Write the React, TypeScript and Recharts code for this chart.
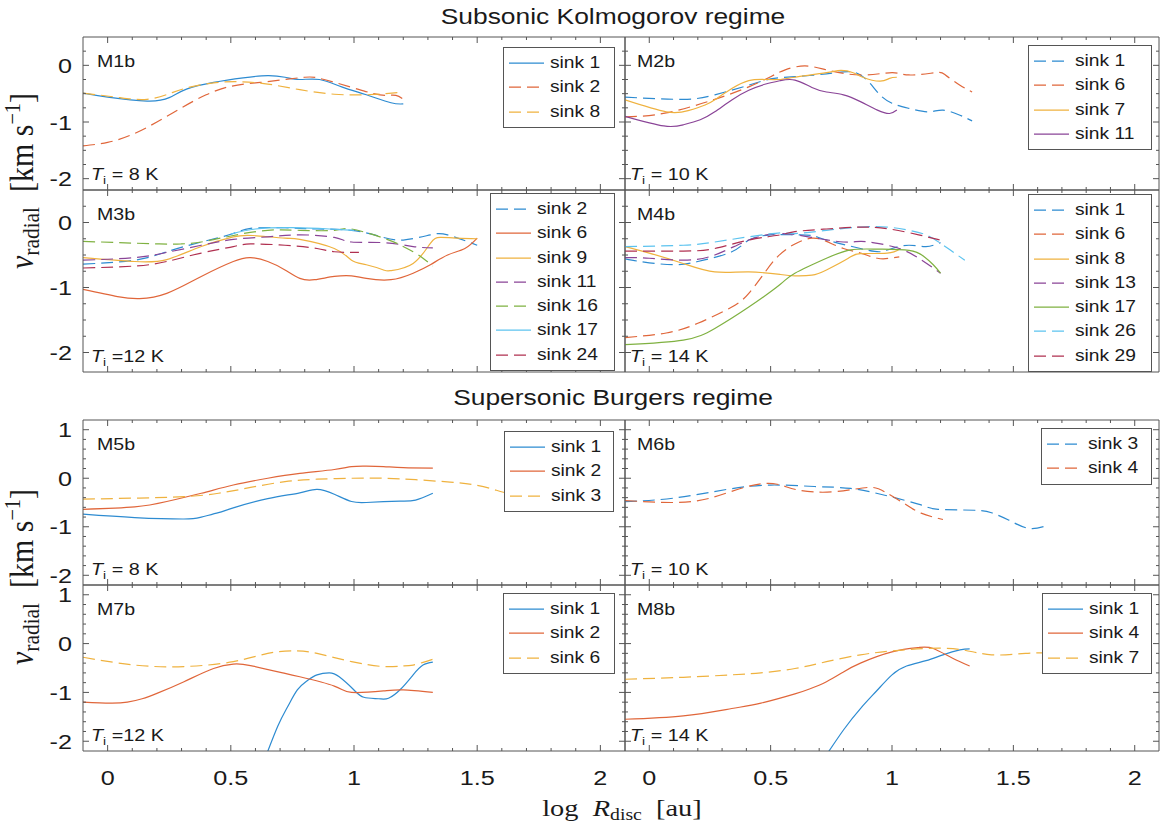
import React from "react";
import { Legend, Line, LineChart, XAxis, YAxis } from "recharts";

type Pt = [number, number];

// x = log R_disc [au], y = v_radial [km s^-1]

// M1b
const m1bSink1: Pt[] = [[-0.1, -0.49], [0.0, -0.56], [0.16, -0.63], [0.25, -0.57], [0.32, -0.42], [0.43, -0.3], [0.55, -0.22], [0.65, -0.18], [0.72, -0.21], [0.78, -0.25], [0.86, -0.25], [0.95, -0.38], [1.05, -0.52], [1.15, -0.66], [1.2, -0.68]];
const m1bSink2: Pt[] = [[-0.1, -1.42], [0.0, -1.36], [0.1, -1.22], [0.2, -1.0], [0.3, -0.75], [0.4, -0.52], [0.5, -0.37], [0.6, -0.31], [0.7, -0.26], [0.8, -0.21], [0.85, -0.22], [0.92, -0.3], [1.0, -0.4], [1.08, -0.5], [1.13, -0.53], [1.17, -0.53], [1.2, -0.6]];
const m1bSink8: Pt[] = [[-0.1, -0.49], [0.05, -0.57], [0.16, -0.6], [0.25, -0.5], [0.32, -0.4], [0.43, -0.31], [0.54, -0.29], [0.65, -0.33], [0.78, -0.43], [0.92, -0.51], [1.05, -0.52], [1.13, -0.5], [1.2, -0.47]];

// M2b
const m2bSink1: Pt[] = [[-0.1, -0.56], [0.14, -0.6], [0.27, -0.52], [0.41, -0.35], [0.5, -0.24], [0.6, -0.2], [0.73, -0.15], [0.82, -0.11], [0.87, -0.17], [0.91, -0.32], [0.95, -0.52], [1.0, -0.67], [1.07, -0.76], [1.15, -0.82], [1.21, -0.79], [1.28, -0.88], [1.33, -0.98]];
const m2bSink6: Pt[] = [[-0.1, -0.91], [0.07, -0.84], [0.27, -0.6], [0.41, -0.38], [0.5, -0.2], [0.56, -0.08], [0.64, -0.01], [0.73, -0.08], [0.87, -0.17], [1.0, -0.13], [1.07, -0.17], [1.18, -0.13], [1.22, -0.17], [1.28, -0.35], [1.33, -0.47]];
const m2bSink7: Pt[] = [[-0.1, -0.61], [0.07, -0.82], [0.16, -0.8], [0.23, -0.7], [0.28, -0.58], [0.34, -0.41], [0.41, -0.27], [0.48, -0.25], [0.54, -0.25], [0.6, -0.21], [0.73, -0.13], [0.79, -0.09], [0.84, -0.13], [0.88, -0.21], [0.95, -0.28], [0.99, -0.23], [1.02, -0.21]];
const m2bSink11: Pt[] = [[-0.1, -0.9], [0.06, -1.07], [0.14, -1.05], [0.21, -0.96], [0.27, -0.82], [0.34, -0.61], [0.41, -0.44], [0.48, -0.33], [0.54, -0.27], [0.6, -0.26], [0.67, -0.39], [0.73, -0.47], [0.8, -0.52], [0.87, -0.64], [0.94, -0.79], [0.99, -0.85], [1.02, -0.79]];

// M3b
const m3bSink2: Pt[] = [[-0.1, -0.64], [0.11, -0.58], [0.24, -0.45], [0.38, -0.3], [0.51, -0.17], [0.58, -0.09], [0.72, -0.08], [0.85, -0.1], [0.99, -0.12], [1.11, -0.22], [1.2, -0.27], [1.31, -0.19], [1.38, -0.19], [1.5, -0.35]];
const m3bSink6: Pt[] = [[-0.1, -1.03], [0.04, -1.14], [0.13, -1.17], [0.24, -1.09], [0.38, -0.83], [0.51, -0.6], [0.58, -0.54], [0.65, -0.6], [0.72, -0.73], [0.78, -0.86], [0.84, -0.88], [0.92, -0.83], [0.99, -0.82], [1.05, -0.86], [1.15, -0.88], [1.24, -0.78], [1.31, -0.65], [1.38, -0.5], [1.45, -0.4], [1.5, -0.24]];
const m3bSink9: Pt[] = [[-0.1, -0.54], [0.11, -0.6], [0.24, -0.57], [0.38, -0.37], [0.51, -0.22], [0.59, -0.2], [0.72, -0.24], [0.78, -0.26], [0.92, -0.4], [0.99, -0.58], [1.05, -0.65], [1.12, -0.73], [1.15, -0.74], [1.24, -0.63], [1.31, -0.32], [1.35, -0.23], [1.42, -0.24], [1.5, -0.25]];
const m3bSink11: Pt[] = [[-0.1, -0.58], [0.11, -0.54], [0.24, -0.46], [0.38, -0.35], [0.51, -0.26], [0.65, -0.22], [0.78, -0.19], [0.92, -0.23], [0.99, -0.3], [1.12, -0.31], [1.24, -0.37], [1.32, -0.39]];
const m3bSink16: Pt[] = [[-0.1, -0.29], [0.21, -0.33], [0.3, -0.33], [0.38, -0.3], [0.51, -0.2], [0.65, -0.12], [0.78, -0.12], [0.92, -0.12], [0.99, -0.1], [1.12, -0.24], [1.19, -0.35], [1.24, -0.45], [1.28, -0.55], [1.32, -0.67]];
const m3bSink17: Pt[] = [[0.5, -0.18], [0.6, -0.1], [0.75, -0.08], [0.9, -0.1], [1.0, -0.12]];
const m3bSink24: Pt[] = [[-0.1, -0.7], [0.11, -0.67], [0.24, -0.6], [0.38, -0.47], [0.51, -0.37], [0.58, -0.33], [0.72, -0.35], [0.85, -0.4], [0.92, -0.45], [1.02, -0.46]];

// M4b
const m4bSink1: Pt[] = [[-0.1, -0.56], [0.0, -0.62], [0.11, -0.65], [0.2, -0.6], [0.34, -0.45], [0.41, -0.27], [0.5, -0.19], [0.6, -0.19], [0.67, -0.2], [0.73, -0.27], [0.87, -0.4], [0.95, -0.45], [1.0, -0.4], [1.07, -0.35], [1.14, -0.37], [1.2, -0.31]];
const m4bSink6: Pt[] = [[-0.1, -1.77], [0.07, -1.7], [0.2, -1.55], [0.34, -1.3], [0.41, -1.09], [0.47, -0.8], [0.53, -0.52], [0.6, -0.33], [0.67, -0.24], [0.73, -0.29], [0.8, -0.4], [0.87, -0.47], [0.94, -0.55], [0.99, -0.55], [1.03, -0.53]];
const m4bSink8: Pt[] = [[-0.1, -0.37], [0.0, -0.47], [0.14, -0.63], [0.27, -0.76], [0.41, -0.76], [0.54, -0.8], [0.6, -0.82], [0.67, -0.81], [0.73, -0.73], [0.82, -0.55], [0.87, -0.48], [0.98, -0.47], [1.03, -0.41]];
const m4bSink13: Pt[] = [[-0.1, -0.54], [0.0, -0.55], [0.14, -0.58], [0.27, -0.5], [0.41, -0.27], [0.54, -0.17], [0.67, -0.23], [0.8, -0.3], [0.87, -0.29], [0.94, -0.32], [1.03, -0.4], [1.11, -0.55], [1.2, -0.78]];
const m4bSink17: Pt[] = [[-0.1, -1.88], [0.14, -1.81], [0.27, -1.63], [0.41, -1.3], [0.54, -0.95], [0.6, -0.78], [0.73, -0.55], [0.83, -0.42], [0.94, -0.41], [1.07, -0.43], [1.13, -0.52], [1.17, -0.65], [1.2, -0.78]];
const m4bSink26: Pt[] = [[-0.1, -0.37], [0.14, -0.35], [0.27, -0.3], [0.41, -0.22], [0.54, -0.16], [0.6, -0.17], [0.73, -0.12], [0.87, -0.07], [0.98, -0.07], [1.07, -0.12], [1.14, -0.19], [1.2, -0.32], [1.25, -0.45], [1.3, -0.58]];
const m4bSink29: Pt[] = [[-0.1, -0.44], [0.14, -0.44], [0.27, -0.4], [0.41, -0.27], [0.54, -0.19], [0.6, -0.14], [0.73, -0.1], [0.87, -0.07], [0.99, -0.1], [1.11, -0.19], [1.2, -0.27]];

// M5b
const m5bSink1: Pt[] = [[-0.1, -0.74], [0.11, -0.81], [0.31, -0.84], [0.38, -0.8], [0.45, -0.71], [0.51, -0.61], [0.65, -0.42], [0.78, -0.3], [0.85, -0.23], [0.92, -0.33], [0.99, -0.48], [1.05, -0.5], [1.12, -0.48], [1.19, -0.47], [1.25, -0.45], [1.32, -0.31]];
const m5bSink2: Pt[] = [[-0.1, -0.64], [0.11, -0.59], [0.24, -0.48], [0.38, -0.31], [0.51, -0.14], [0.65, 0.0], [0.78, 0.1], [0.92, 0.18], [0.99, 0.24], [1.05, 0.25], [1.12, 0.24], [1.2, 0.22], [1.32, 0.21]];
const m5bSink3: Pt[] = [[-0.1, -0.43], [0.11, -0.41], [0.31, -0.38], [0.45, -0.31], [0.58, -0.19], [0.72, -0.07], [0.85, -0.02], [0.99, 0.0], [1.12, 0.0], [1.25, -0.03], [1.39, -0.08], [1.48, -0.13], [1.56, -0.22], [1.62, -0.3], [1.68, -0.27]];

// M6b
const m6bSink3: Pt[] = [[-0.1, -0.48], [0.1, -0.41], [0.32, -0.23], [0.5, -0.14], [0.68, -0.17], [0.83, -0.21], [0.97, -0.35], [1.12, -0.55], [1.19, -0.64], [1.34, -0.66], [1.41, -0.71], [1.48, -0.86], [1.56, -1.03], [1.63, -0.99]];
const m6bSink4: Pt[] = [[-0.1, -0.46], [0.1, -0.5], [0.25, -0.41], [0.39, -0.19], [0.51, -0.11], [0.61, -0.24], [0.76, -0.28], [0.9, -0.19], [0.97, -0.28], [1.05, -0.52], [1.12, -0.72], [1.21, -0.85]];

// M7b
const m7bSink1: Pt[] = [[0.62, -2.6], [0.69, -1.7], [0.73, -1.3], [0.77, -0.95], [0.81, -0.76], [0.85, -0.64], [0.9, -0.6], [0.94, -0.68], [1.0, -0.95], [1.04, -1.1], [1.1, -1.13], [1.14, -1.12], [1.19, -0.93], [1.24, -0.64], [1.28, -0.44], [1.32, -0.38]];
const m7bSink2: Pt[] = [[-0.1, -1.2], [0.01, -1.22], [0.08, -1.2], [0.14, -1.13], [0.2, -1.02], [0.31, -0.78], [0.43, -0.51], [0.51, -0.42], [0.58, -0.45], [0.72, -0.61], [0.78, -0.68], [0.92, -0.87], [0.99, -1.0], [1.12, -0.97], [1.2, -0.95], [1.32, -1.0]];
const m7bSink6: Pt[] = [[-0.1, -0.28], [0.11, -0.44], [0.31, -0.47], [0.51, -0.37], [0.65, -0.2], [0.76, -0.15], [0.85, -0.2], [0.99, -0.37], [1.12, -0.47], [1.19, -0.46], [1.24, -0.44], [1.32, -0.32]];

// M8b
const m8bSink1: Pt[] = [[0.7, -2.5], [0.8, -1.77], [0.87, -1.33], [0.94, -0.95], [1.0, -0.64], [1.06, -0.46], [1.14, -0.35], [1.21, -0.23], [1.28, -0.13], [1.32, -0.11]];
const m8bSink4: Pt[] = [[-0.1, -1.55], [0.14, -1.48], [0.34, -1.33], [0.46, -1.22], [0.6, -1.03], [0.66, -0.93], [0.73, -0.78], [0.8, -0.58], [0.87, -0.4], [1.0, -0.17], [1.11, -0.08], [1.17, -0.1], [1.25, -0.3], [1.32, -0.46]];
const m8bSink7: Pt[] = [[-0.1, -0.73], [0.14, -0.69], [0.34, -0.64], [0.46, -0.6], [0.6, -0.51], [0.73, -0.37], [0.87, -0.23], [1.0, -0.15], [1.14, -0.1], [1.28, -0.12], [1.41, -0.23], [1.55, -0.2], [1.65, -0.19]];

const X_MAJOR = [0, 0.5, 1, 1.5, 2];
const Y_MAJOR_TOP = [-2, -1, 0];
const Y_MAJOR_BOTTOM = [-2, -1, 0, 1];

const BLUE = "#2d8bd1";
const ORANGE = "#e0663a";
const YELLOW = "#efb23f";
const PURPLE = "#8a4497";
const GREEN = "#7fb141";
const CYAN = "#5cc3ef";
const DARKRED = "#b03050";

const AXIS = "#555";
const INK = "#1a1a1a";
const SANS = "'Liberation Sans', Arial, Helvetica, sans-serif";
const SERIF = "'Liberation Serif', 'Times New Roman', serif";
const DASH = "12 6";
const LEG_ROW = 24.3;

interface Series {
  name: string;
  color: string;
  dashed?: boolean;
  data: Pt[];
}

interface PanelDef {
  label: string;
  temp: string;
  row: number;
  col: number;
  legendTop: number;
  legendRight: number;
  legendWidth: number;
  series: Series[];
}

const ROWS = [
  { top: 37, bottom: 190, domain: [-2.2, 0.5], major: Y_MAJOR_TOP, minorStep: 0.25 },
  { top: 190, bottom: 372, domain: [-2.3, 0.5], major: Y_MAJOR_TOP, minorStep: 0.25 },
  { top: 420, bottom: 585, domain: [-2.2, 1.2], major: Y_MAJOR_BOTTOM, minorStep: 0.2 },
  { top: 585, bottom: 751, domain: [-2.2, 1.2], major: Y_MAJOR_BOTTOM, minorStep: 0.2 },
];
const COLS = [
  { left: 83, right: 625 },
  { left: 625, right: 1159 },
];
const X_DOMAIN = [-0.1, 2.1];

const PANELS: PanelDef[] = [
  {
    label: "M1b", temp: " = 8 K", row: 0, col: 0, legendTop: 10, legendRight: 10, legendWidth: 112,
    series: [
      { name: "sink 1", color: BLUE, data: m1bSink1 },
      { name: "sink 2", color: ORANGE, dashed: true, data: m1bSink2 },
      { name: "sink 8", color: YELLOW, dashed: true, data: m1bSink8 },
    ],
  },
  {
    label: "M2b", temp: " = 10 K", row: 0, col: 1, legendTop: 8, legendRight: 7, legendWidth: 124,
    series: [
      { name: "sink 1", color: BLUE, dashed: true, data: m2bSink1 },
      { name: "sink 6", color: ORANGE, dashed: true, data: m2bSink6 },
      { name: "sink 7", color: YELLOW, data: m2bSink7 },
      { name: "sink 11", color: PURPLE, data: m2bSink11 },
    ],
  },
  {
    label: "M3b", temp: " =12 K", row: 1, col: 0, legendTop: 3, legendRight: 10, legendWidth: 125,
    series: [
      { name: "sink 2", color: BLUE, dashed: true, data: m3bSink2 },
      { name: "sink 6", color: ORANGE, data: m3bSink6 },
      { name: "sink 9", color: YELLOW, data: m3bSink9 },
      { name: "sink 11", color: PURPLE, dashed: true, data: m3bSink11 },
      { name: "sink 16", color: GREEN, dashed: true, data: m3bSink16 },
      { name: "sink 17", color: CYAN, data: m3bSink17 },
      { name: "sink 24", color: DARKRED, dashed: true, data: m3bSink24 },
    ],
  },
  {
    label: "M4b", temp: " = 14 K", row: 1, col: 1, legendTop: 4, legendRight: 7, legendWidth: 124,
    series: [
      { name: "sink 1", color: BLUE, dashed: true, data: m4bSink1 },
      { name: "sink 6", color: ORANGE, dashed: true, data: m4bSink6 },
      { name: "sink 8", color: YELLOW, data: m4bSink8 },
      { name: "sink 13", color: PURPLE, dashed: true, data: m4bSink13 },
      { name: "sink 17", color: GREEN, data: m4bSink17 },
      { name: "sink 26", color: CYAN, dashed: true, data: m4bSink26 },
      { name: "sink 29", color: DARKRED, dashed: true, data: m4bSink29 },
    ],
  },
  {
    label: "M5b", temp: " = 8 K", row: 2, col: 0, legendTop: 11, legendRight: 11, legendWidth: 110,
    series: [
      { name: "sink 1", color: BLUE, data: m5bSink1 },
      { name: "sink 2", color: ORANGE, data: m5bSink2 },
      { name: "sink 3", color: YELLOW, dashed: true, data: m5bSink3 },
    ],
  },
  {
    label: "M6b", temp: " = 10 K", row: 2, col: 1, legendTop: 8, legendRight: 7, legendWidth: 111,
    series: [
      { name: "sink 3", color: BLUE, dashed: true, data: m6bSink3 },
      { name: "sink 4", color: ORANGE, dashed: true, data: m6bSink4 },
    ],
  },
  {
    label: "M7b", temp: " =12 K", row: 3, col: 0, legendTop: 8, legendRight: 10, legendWidth: 112,
    series: [
      { name: "sink 1", color: BLUE, data: m7bSink1 },
      { name: "sink 2", color: ORANGE, data: m7bSink2 },
      { name: "sink 6", color: YELLOW, dashed: true, data: m7bSink6 },
    ],
  },
  {
    label: "M8b", temp: " = 14 K", row: 3, col: 1, legendTop: 8, legendRight: 7, legendWidth: 110,
    series: [
      { name: "sink 1", color: BLUE, data: m8bSink1 },
      { name: "sink 4", color: ORANGE, data: m8bSink4 },
      { name: "sink 7", color: YELLOW, dashed: true, data: m8bSink7 },
    ],
  },
];

// major ticks plus minor ones every 0.1 on x
const X_TICKS: number[] = [];
for (let k = 0; k <= 20; k++) X_TICKS.push(+(k / 10).toFixed(2));

function yTicksFor(row: (typeof ROWS)[number]) {
  const [d0, d1] = row.domain;
  const out: number[] = [];
  for (let k = Math.ceil(d0 / row.minorStep); k * row.minorStep <= d1; k++) {
    const v = +(k * row.minorStep).toFixed(3);
    if (v - d0 > 0.06 && d1 - v > 0.06) out.push(v);
  }
  return out;
}

const fmt = (v: number) => (Math.abs(v) < 1e-9 ? "0" : String(v));

function XTick(props: any) {
  const { x, y, payload, side, showLabel } = props;
  const v = payload.value as number;
  const major = X_MAJOR.some((m) => Math.abs(m - v) < 1e-6);
  const len = major ? 6 : 3;
  const dir = side === "bottom" ? -1 : 1;
  return (
    <g>
      <line x1={x} x2={x} y1={y} y2={y + dir * len} stroke={AXIS} strokeWidth={1} />
      {showLabel && major && (
        <text transform={`translate(${x},${y + 34}) scale(1.2,1)`} textAnchor="middle" fontSize={21} fontFamily={SANS} fill={INK}>
          {fmt(v)}
        </text>
      )}
    </g>
  );
}

function YTick(props: any) {
  const { x, y, payload, side, showLabel } = props;
  const v = payload.value as number;
  const major = Math.abs(v - Math.round(v)) < 1e-6;
  const len = major ? 6 : 3;
  const dir = side === "left" ? 1 : -1;
  return (
    <g>
      <line x1={x} x2={x + dir * len} y1={y} y2={y} stroke={AXIS} strokeWidth={1} />
      {showLabel && major && (
        <text transform={`translate(${x - 11},${y + 7.5}) scale(1.2,1)`} textAnchor="end" fontSize={21} fontFamily={SANS} fill={INK}>
          {fmt(v)}
        </text>
      )}
    </g>
  );
}

function LegendBox({ series }: { series: Series[] }) {
  return (
    <div style={{ border: `1px solid ${AXIS}`, background: "#fff", padding: "3px 0", boxSizing: "border-box" }}>
      {series.map((s) => (
        <div key={s.name} style={{ position: "relative", height: LEG_ROW }}>
          <svg width={42} height={LEG_ROW} style={{ position: "absolute", left: 0, top: 0 }}>
            <line x1={5} x2={40} y1={LEG_ROW / 2} y2={LEG_ROW / 2} stroke={s.color} strokeWidth={1.2} strokeDasharray={s.dashed ? DASH : undefined} />
          </svg>
          <span
            style={{
              position: "absolute",
              left: 46,
              top: 0,
              lineHeight: `${LEG_ROW}px`,
              fontSize: 16,
              fontFamily: SANS,
              color: INK,
              whiteSpace: "nowrap",
              transform: "scaleX(1.2)",
              transformOrigin: "left center",
            }}
          >
            {s.name}
          </span>
        </div>
      ))}
    </div>
  );
}

function PanelChart({ p }: { p: PanelDef }) {
  const row = ROWS[p.row];
  const col = COLS[p.col];
  const isLeft = p.col === 0;
  const isBottom = p.row === 3;
  const leftW = isLeft ? col.left : 1;
  const bottomH = isBottom ? 46 : 1;
  const width = leftW + (col.right - col.left) + 1;
  const height = 1 + (row.bottom - row.top) + bottomH;
  const yTicks = yTicksFor(row);

  return (
    <div style={{ position: "absolute", left: col.left - leftW, top: row.top - 1 }}>
      <LineChart width={width} height={height} margin={{ top: 0, right: 0, bottom: 0, left: 0 }}>
        <XAxis
          xAxisId="b"
          type="number"
          dataKey="x"
          domain={X_DOMAIN}
          allowDataOverflow
          ticks={X_TICKS}
          interval={0}
          height={bottomH}
          tickSize={0}
          tickMargin={0}
          tickLine={false}
          stroke={AXIS}
          tick={(t: any) => <XTick {...t} side="bottom" showLabel={isBottom} />}
        />
        <XAxis
          xAxisId="t"
          orientation="top"
          type="number"
          dataKey="x"
          domain={X_DOMAIN}
          allowDataOverflow
          ticks={X_TICKS}
          interval={0}
          height={1}
          tickSize={0}
          tickMargin={0}
          tickLine={false}
          stroke={AXIS}
          tick={(t: any) => <XTick {...t} side="top" showLabel={false} />}
        />
        <YAxis
          yAxisId="l"
          type="number"
          domain={row.domain}
          allowDataOverflow
          ticks={yTicks}
          interval={0}
          width={leftW}
          tickSize={0}
          tickMargin={0}
          tickLine={false}
          stroke={AXIS}
          tick={(t: any) => <YTick {...t} side="left" showLabel={isLeft} />}
        />
        <YAxis
          yAxisId="r"
          orientation="right"
          type="number"
          domain={row.domain}
          allowDataOverflow
          ticks={yTicks}
          interval={0}
          width={1}
          tickSize={0}
          tickMargin={0}
          tickLine={false}
          stroke={AXIS}
          tick={(t: any) => <YTick {...t} side="right" showLabel={false} />}
        />
        <Legend
          layout="horizontal"
          align="center"
          verticalAlign="middle"
          content={() => <LegendBox series={p.series} />}
          wrapperStyle={{ top: 1 + p.legendTop, right: 1 + p.legendRight, left: "auto", width: p.legendWidth, height: "auto" }}
        />
        {p.series.map((s) => (
          <Line
            key={s.name}
            xAxisId="b"
            yAxisId="l"
            name={s.name}
            data={s.data.map(([x, y]) => ({ x, y }))}
            dataKey="y"
            type="natural"
            stroke={s.color}
            strokeWidth={1.2}
            strokeDasharray={s.dashed ? DASH : undefined}
            dot={false}
            activeDot={false}
            isAnimationActive={false}
          />
        ))}
      </LineChart>
    </div>
  );
}

function Annotations() {
  return (
    <svg width={1160} height={826} style={{ position: "absolute", left: 0, top: 0, pointerEvents: "none" }}>
      <text transform="translate(613,24) scale(1.2,1)" textAnchor="middle" fontSize={22} fontFamily={SANS} fill={INK}>
        Subsonic Kolmogorov regime
      </text>
      <text transform="translate(613,405) scale(1.2,1)" textAnchor="middle" fontSize={22} fontFamily={SANS} fill={INK}>
        Supersonic Burgers regime
      </text>
      {PANELS.map((p) => {
        const row = ROWS[p.row];
        const col = COLS[p.col];
        const lx = col.left + (p.col === 0 ? 14 : 12);
        const tx = col.left + (p.col === 0 ? 8 : 5);
        return (
          <g key={p.label}>
            <text transform={`translate(${lx},${row.top + 30}) scale(1.2,1)`} fontSize={16.3} fontFamily={SANS} fill={INK}>
              {p.label}
            </text>
            <text transform={`translate(${tx},${row.bottom - 10}) scale(1.2,1)`} fontSize={16.5} fontFamily={SANS} fill={INK} style={{ whiteSpace: "pre" }}>
              <tspan fontStyle="italic">T</tspan>
              <tspan fontSize={11.5} dy={4}>i</tspan>
              <tspan dy={-4}>{p.temp}</tspan>
            </text>
          </g>
        );
      })}
      {[181, 577].map((cy) => (
        <text
          key={cy}
          transform={`translate(33,${cy}) rotate(-90) scale(1,1.2)`}
          textAnchor="middle"
          fontSize={28}
          fontFamily={SERIF}
          fill={INK}
          textLength={176}
          lengthAdjust="spacingAndGlyphs"
          style={{ whiteSpace: "pre" }}
        >
          <tspan fontStyle="italic">v</tspan>
          <tspan fontSize={20} dy={5}>radial</tspan>
          <tspan dy={-5}>{"  [km s"}</tspan>
          <tspan fontSize={19} dy={-11}>−1</tspan>
          <tspan dy={11}>]</tspan>
        </text>
      ))}
      <text
        transform="translate(622,816) scale(1.2,1)"
        textAnchor="middle"
        fontSize={23}
        fontFamily={SERIF}
        fill={INK}
        textLength={133}
        lengthAdjust="spacingAndGlyphs"
        style={{ whiteSpace: "pre" }}
      >
        <tspan>{"log  "}</tspan>
        <tspan fontStyle="italic">R</tspan>
        <tspan fontSize={16} dy={4}>disc</tspan>
        <tspan dy={-4}>{"  [au]"}</tspan>
      </text>
    </svg>
  );
}

export default function App() {
  return (
    <div style={{ position: "absolute", left: 0, top: 0, width: 1160, height: 826, overflow: "hidden", background: "#fff" }}>
      {PANELS.map((p) => (
        <PanelChart key={p.label} p={p} />
      ))}
      <Annotations />
    </div>
  );
}
